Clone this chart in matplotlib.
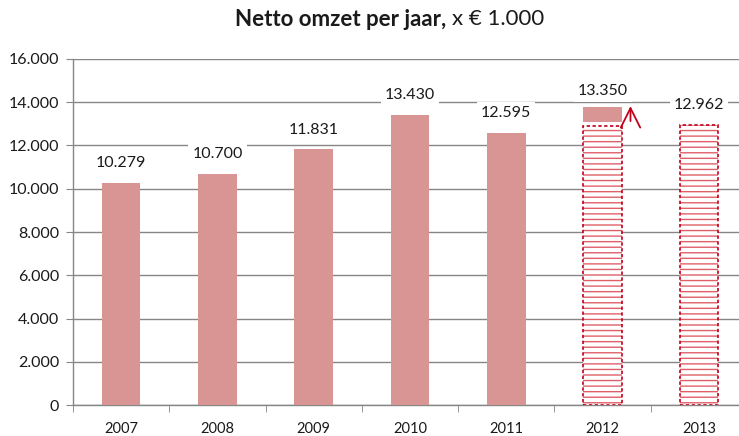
import matplotlib
matplotlib.use("Agg")
import matplotlib.pyplot as plt
from matplotlib.ticker import FuncFormatter, FixedLocator

plt.rcParams['font.family'] = ['Lato', 'DejaVu Sans']

# data
years = ['2007', '2008', '2009', '2010', '2011', '2012', '2013']
realised = [10279, 10700, 11831, 13430, 12595]      # solid bars 2007-2011
forecast = [12900, 12962]                          # hatched bars 2012, 2013
extra_bottom = 13100                               # solid block on top of 2012
extra_top = 13800
labels = ['10.279', '10.700', '11.831', '13.430', '12.595', '13.350', '12.962']

bar_col = '#d99594'
red = '#c0001a'
hatch_red = '#e0606a'
grid_col = '#868686'
txt = '#1a1a1a'

fig = plt.figure(figsize=(7.39, 4.36), dpi=100)
ax = fig.add_axes([73 / 739, 31 / 436, 674 / 739, 346 / 436])

pos = list(range(len(years)))
w = 0.4

# solid bars
ax.bar(pos[:5], realised, width=w, color=bar_col, zorder=3)

# hatched forecast bars: hatch fill + dashed outline
plt.rcParams['hatch.linewidth'] = 1.0
ax.bar(pos[5:], forecast, width=w, color='white', edgecolor=hatch_red,
       hatch='---', linewidth=0, zorder=3)
ax.bar(pos[5:], forecast, width=w, fill=False, edgecolor=red,
       linestyle=(0, (2, 1.5)), linewidth=1.2, zorder=4)

# extra block on top of 2012
ax.bar(pos[5], extra_top - extra_bottom, bottom=extra_bottom, width=w,
       color=bar_col, zorder=3)

# arrow next to 2012
ax.annotate('', xy=(pos[5] + 0.29, extra_top + 150), xytext=(pos[5] + 0.29, extra_bottom - 100),
            arrowprops=dict(arrowstyle='->,head_length=0.7,head_width=0.35', color=red,
                            lw=1.3, mutation_scale=20),
            zorder=5)

# value labels
tops = realised + [extra_top, forecast[1]]
offs = [14, 14, 14, 14, 14, 11, 14]
for x, top, lab, off in zip(pos, tops, labels, offs):
    ax.annotate(lab, xy=(x, top), xytext=(0, off), textcoords='offset points',
                ha='center', va='center', fontsize=11.5, color=txt,
                bbox=dict(boxstyle='square,pad=0.25', fc='white', ec='none'),
                zorder=6)

ax.set_xlim(-0.5, len(years) - 0.5)
ax.set_ylim(0, 16000)
ax.set_yticks(range(0, 16001, 2000))
ax.yaxis.set_major_formatter(FuncFormatter(lambda v, p: f'{int(v):,}'.replace(',', '.')))
ax.yaxis.grid(True, color=grid_col, linewidth=1, zorder=0)
ax.set_axisbelow(True)

ax.set_xticks(pos)
ax.set_xticklabels(years)
ax.xaxis.set_minor_locator(FixedLocator([p - 0.5 for p in pos] + [pos[-1] + 0.5]))
ax.tick_params(axis='x', which='major', length=0, pad=12, labelsize=10.5, labelcolor=txt)
ax.tick_params(axis='x', which='minor', length=5, color=grid_col, direction='out')
ax.tick_params(axis='y', length=5, color=grid_col, pad=5, labelsize=11.5, labelcolor=txt)

for s in ['top', 'right']:
    ax.spines[s].set_visible(False)
for s in ['left', 'bottom']:
    ax.spines[s].set_color(grid_col)
    ax.spines[s].set_linewidth(1)

# title: bold part + normal part
fig.text(446 / 739, 1 - 19 / 436, 'Netto omzet per jaar,', fontsize=16, fontweight='bold',
         ha='right', va='center', color=txt)
fig.text(452 / 739, 1 - 19 / 436, 'x € 1.000', fontsize=16,
         ha='left', va='center', color=txt)

fig.savefig('out.png', dpi=100, facecolor='white')
